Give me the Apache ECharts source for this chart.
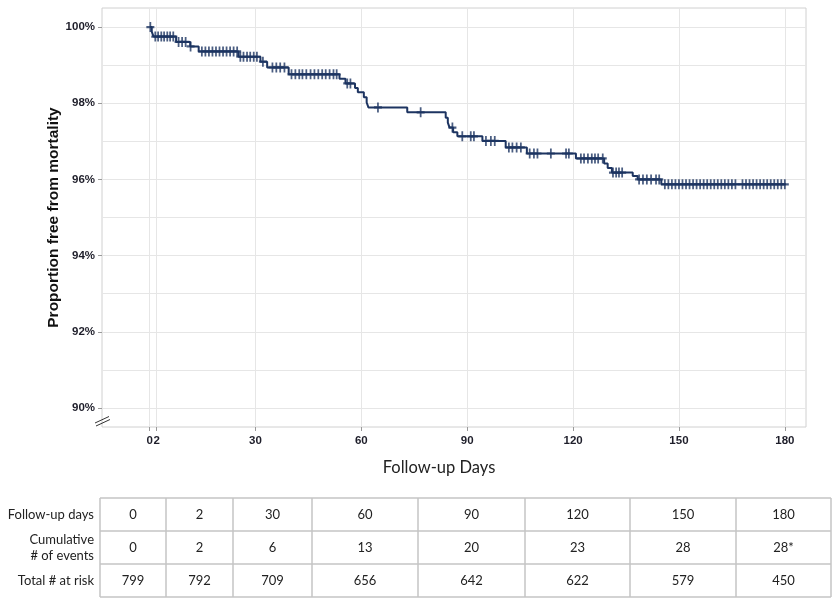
<!DOCTYPE html>
<html>
<head>
<meta charset="utf-8">
<script src="https://cdn.jsdelivr.net/npm/echarts@6/dist/echarts.min.js"></script>
<style>
html, body { margin: 0; padding: 0; background: #fff; }
#main { width: 832px; height: 598px; }
</style>
</head>
<body>
<div id="main"></div>
<script>
// KM step curve: day of each drop and survival (%) right after it
var eventDays = [0, 0.6, 1.1, 7.5, 11.5, 13.9, 25.2, 31.4, 33.3, 39.4, 53.8, 55.5, 58.2, 59.0, 60.7, 61.5, 62.0,
    73.0, 83.9, 84.5, 85.0, 86.0, 87.2, 94.3, 100.9, 106.9, 120.8, 128.8, 129.8, 131.0, 136.9, 138.3, 145.0, 180.3];
var survival = [100, 99.88, 99.75, 99.61, 99.49, 99.36, 99.22, 99.09, 98.94, 98.76, 98.64, 98.52, 98.40, 98.29, 98.16, 98.02, 97.89,
    97.76, 97.62, 97.49, 97.36, 97.24, 97.13, 97.01, 96.84, 96.68, 96.55, 96.42, 96.30, 96.18, 96.09, 96.00, 95.87, 95.87];

// censored observations (+ marks)
var censorDays = [0.2, 1.6, 2.4, 3.3, 4.1, 5.0, 5.8, 6.7, 8.2, 9.2, 10.2, 11.6,
    14.8, 15.8, 16.8, 17.8, 18.8, 19.8, 20.8, 21.8, 22.8, 23.8, 24.8,
    25.7, 26.6, 27.6, 28.5, 29.5, 30.4, 32.1, 34.8, 35.9, 37.0, 38.2,
    40.2, 41.3, 42.4, 43.3, 44.4, 45.6, 46.7, 47.8, 48.9, 49.9, 51.0, 52.1, 53.0,
    56.0, 56.9, 64.7, 76.8, 85.8, 88.6, 91.0, 91.9, 95.3, 96.7, 97.8,
    101.8, 102.8, 104.0, 105.2, 107.7, 108.9, 109.9, 113.7, 118.0, 118.8,
    122.2, 123.1, 124.2, 125.3, 126.2, 127.1, 128.4, 131.3, 132.2, 133.0, 133.9,
    138.7, 139.8, 140.9, 142.1, 143.5, 144.4,
    146, 147, 148, 149, 150, 151, 152, 153, 154, 155, 156, 157, 158, 159, 160, 161, 162, 163, 164, 165, 166,
    168, 169, 170, 171, 172, 173, 174, 175, 176, 177, 178, 179, 180];

var xTicks = [0, 2, 30, 60, 90, 120, 150, 180];
var yTicks = [90, 92, 94, 96, 98, 100];
var yGrid = [90, 91, 92, 93, 94, 95, 96, 97, 98, 99, 100];

// risk table
var rowLabels = ['Follow-up days', 'Cumulative\n# of events', 'Total # at risk'];
var tableDays = ['0', '2', '30', '60', '90', '120', '150', '180'];
var tableEvents = ['0', '2', '6', '13', '20', '23', '28', '28*'];
var tableAtRisk = ['799', '792', '709', '656', '642', '622', '579', '450'];

var navy = '#1d3461';

function survAt(d) {
    var s = survival[0];
    for (var i = 0; i < eventDays.length; i++) {
        if (eventDays[i] <= d) s = survival[i];
    }
    return s;
}

var curveData = eventDays.map(function (d, i) { return [d, survival[i]]; });
var censorData = censorDays.map(function (d) { return [d, survAt(d)]; });

// table drawn with graphic elements
var colEdges = [100, 166, 233, 312, 418, 525, 630, 736, 831];
var rowEdges = [498, 531, 564, 597];
var tableRows = [tableDays, tableEvents, tableAtRisk];
var tableFont = '13px Lato';
var graphics = [];

rowEdges.forEach(function (y) {
    graphics.push({type: 'line', shape: {x1: colEdges[0], y1: y, x2: colEdges[colEdges.length - 1], y2: y},
        style: {stroke: '#c4c4c4', lineWidth: 1.5}});
});
colEdges.forEach(function (x) {
    graphics.push({type: 'line', shape: {x1: x, y1: rowEdges[0], x2: x, y2: rowEdges[rowEdges.length - 1]},
        style: {stroke: '#c4c4c4', lineWidth: 1.5}});
});
tableRows.forEach(function (row, r) {
    var cy = (rowEdges[r] + rowEdges[r + 1]) / 2;
    graphics.push({type: 'text', x: 94, y: cy,
        style: {text: rowLabels[r], font: tableFont, fill: '#222', align: 'right', verticalAlign: 'middle', lineHeight: 16}});
    row.forEach(function (val, c) {
        graphics.push({type: 'text', x: (colEdges[c] + colEdges[c + 1]) / 2, y: cy,
            style: {text: val, font: tableFont, fill: '#222', align: 'center', verticalAlign: 'middle'}});
    });
});

// axis break mark
graphics.push({type: 'line', shape: {x1: 95, y1: 423, x2: 109, y2: 416.5}, style: {stroke: '#333', lineWidth: 1}});
graphics.push({type: 'line', shape: {x1: 96, y1: 426, x2: 110, y2: 419.5}, style: {stroke: '#333', lineWidth: 1}});

var option = {
    animation: false,
    grid: {
        left: 102, right: 26, top: 8, bottom: 171,
        show: true, borderColor: '#d0d0d0', borderWidth: 1
    },
    xAxis: {
        type: 'value',
        min: -13.5,
        max: 186,
        name: 'Follow-up Days',
        nameLocation: 'middle',
        nameGap: 32,
        nameTextStyle: {fontFamily: 'Lato', fontSize: 16.5, color: '#222', padding: [0, 30, 0, 0]},
        axisLine: {show: false},
        axisTick: {customValues: xTicks, length: 4, lineStyle: {color: '#999'}},
        axisLabel: {customValues: xTicks, margin: 8, fontFamily: 'Liberation Sans', fontWeight: 'bold', fontSize: 11.5, color: '#1e1e2a'},
        splitLine: {show: true, lineStyle: {color: '#e6e6e6', width: 1}}
    },
    yAxis: [
        {
            type: 'value',
            min: 89.5,
            max: 100.5,
            axisLine: {show: false},
            axisTick: {show: false, customValues: yGrid},
            axisLabel: {show: false},
            splitLine: {show: true, lineStyle: {color: '#e6e6e6', width: 1}}
        },
        {
            type: 'value',
            position: 'left',
            min: 89.5,
            max: 100.5,
            name: 'Proportion free from mortality',
            nameLocation: 'middle',
            nameGap: 40,
            nameMoveOverlap: false,
            nameTextStyle: {fontFamily: 'Liberation Sans', fontWeight: 'bold', fontSize: 15.5, color: '#111'},
            axisLine: {show: false},
            axisTick: {customValues: yTicks, length: 4, lineStyle: {color: '#999'}},
            axisLabel: {customValues: yTicks, formatter: '{value}%', margin: 7,
                fontFamily: 'Liberation Sans', fontWeight: 'bold', fontSize: 11.5, color: '#1e1e2a'},
            splitLine: {show: false}
        }
    ],
    series: [
        {
            type: 'line',
            step: 'end',
            data: curveData,
            showSymbol: false,
            symbol: 'none',
            lineStyle: {color: navy, width: 2},
            z: 3
        },
        {
            type: 'scatter',
            data: censorData,
            symbol: 'path://M3.9,0H6.1V10H3.9ZM0,3.9H10V6.1H0Z',
            symbolSize: [8, 10],
            itemStyle: {color: navy},
            z: 4
        }
    ],
    graphic: graphics
};

var chart = echarts.init(document.getElementById('main'));
chart.setOption(option);
</script>
</body>
</html>
